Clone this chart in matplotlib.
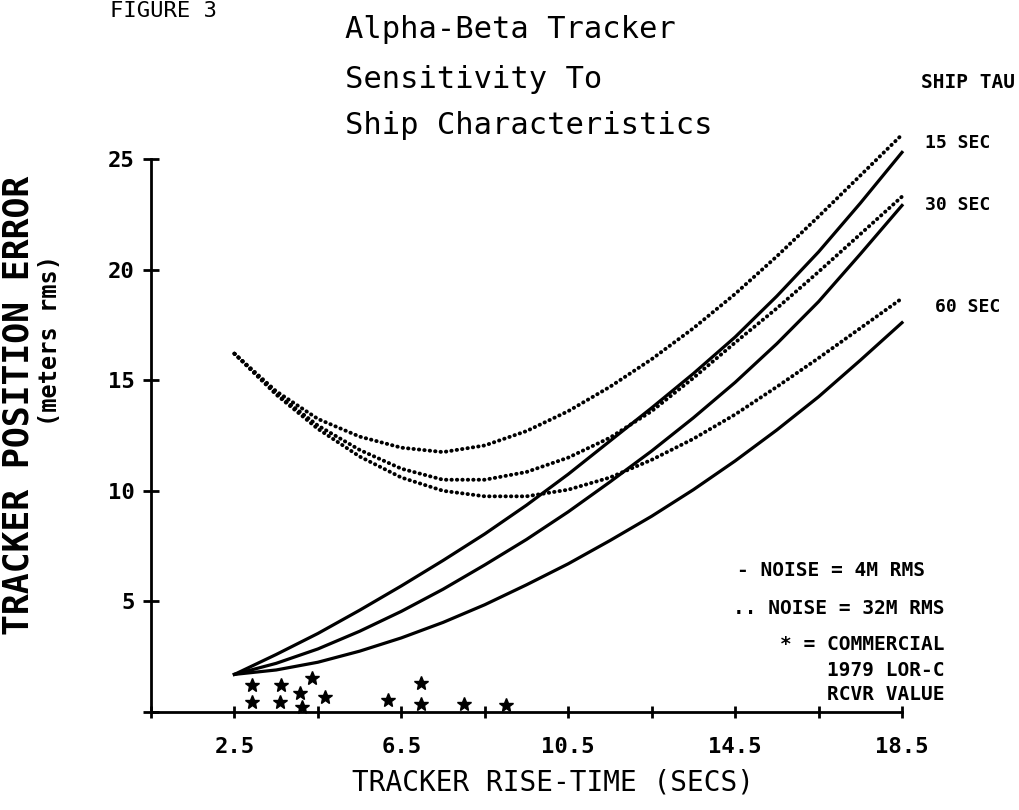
import matplotlib
matplotlib.use("Agg")
import matplotlib.pyplot as plt
import numpy as np

rise_time = [2.5, 3.5, 4.5, 5.5, 6.5, 7.5, 8.5, 9.5, 10.5,
             11.5, 12.5, 13.5, 14.5, 15.5, 16.5, 17.5, 18.5]

# noise = 4M rms (solid), ship tau 15 / 30 / 60 sec
solid_15 = [1.7, 2.6, 3.55, 4.6, 5.7, 6.85, 8.05, 9.35, 10.75,
            12.25, 13.75, 15.3, 16.95, 18.8, 20.8, 23.0, 25.3]
solid_30 = [1.7, 2.2, 2.85, 3.65, 4.55, 5.55, 6.65, 7.8, 9.05,
            10.4, 11.8, 13.3, 14.9, 16.65, 18.55, 20.7, 22.9]
solid_60 = [1.7, 1.9, 2.25, 2.75, 3.35, 4.05, 4.85, 5.75, 6.7,
            7.75, 8.85, 10.05, 11.35, 12.75, 14.25, 15.9, 17.6]

# noise = 32M rms (dotted)
dotted_15 = [16.2, 14.5, 13.25, 12.45, 11.95, 11.75, 12.05, 12.7, 13.6,
             14.7, 15.95, 17.35, 18.9, 20.6, 22.4, 24.25, 26.1]
dotted_30 = [16.2, 14.4, 12.95, 11.85, 11.0, 10.5, 10.5, 10.85, 11.5,
             12.4, 13.6, 15.1, 16.7, 18.25, 19.9, 21.6, 23.3]
dotted_60 = [16.2, 14.35, 12.8, 11.55, 10.6, 10.0, 9.75, 9.75, 10.05,
             10.6, 11.4, 12.35, 13.45, 14.7, 16.0, 17.35, 18.7]

# commercial 1979 loran-c receiver values
rcvr_x = [2.93, 2.93, 3.62, 3.58, 4.35, 4.06, 4.13, 4.66, 6.17, 6.98, 6.98, 8.0, 9.0]
rcvr_y = [1.22, 0.45, 1.22, 0.45, 1.54, 0.86, 0.23, 0.68, 0.54, 1.31, 0.36, 0.36, 0.32]

x_ticks = [0.5, 2.5, 4.5, 6.5, 8.5, 10.5, 12.5, 14.5, 16.5, 18.5]
x_labels = ['', '2.5', '', '6.5', '', '10.5', '', '14.5', '', '18.5']
y_ticks = [0, 5, 10, 15, 20, 25]
y_labels = ['', '5', '10', '15', '20', '25']

W, H = 1020, 810
mono = 'DejaVu Sans Mono'

fig = plt.figure(figsize=(W / 100, H / 100), dpi=100)
ax = fig.add_axes([151 / W, 1 - 712 / H, (902 - 151) / W, (712 - 159) / H])

for ys in (solid_15, solid_30, solid_60):
    ax.plot(rise_time, ys, color='black', lw=2.3, clip_on=False,
            solid_joinstyle='round')
for ys in (dotted_15, dotted_30, dotted_60):
    ax.plot(rise_time, ys, color='black', lw=2.8, linestyle=(0, (0.1, 1.3)),
            dash_capstyle='round', clip_on=False)
ax.plot(rcvr_x, rcvr_y, '*', color='black', markersize=10, clip_on=False)

ax.set_xlim(0.5, 18.5)
ax.set_ylim(0, 25)
ax.set_xticks(x_ticks)
ax.set_xticklabels(x_labels)
ax.set_yticks(y_ticks)
ax.set_yticklabels(y_labels)
for s in ('top', 'right'):
    ax.spines[s].set_visible(False)
for s in ('left', 'bottom'):
    ax.spines[s].set_linewidth(2)
ax.tick_params(axis='y', direction='inout', length=12, width=2, pad=6)
ax.tick_params(axis='x', direction='inout', length=8, width=2, pad=14)
for lab in ax.get_xticklabels() + ax.get_yticklabels():
    lab.set_fontfamily(mono)
    lab.set_fontweight('bold')
    lab.set_fontsize(16)

def ftext(x, y, s, **kw):
    fig.text(x / W, 1 - y / H, s, **kw)

ftext(110, 17, 'FIGURE 3', family=mono, fontsize=16, va='baseline')
ftext(345, 30, 'Alpha-Beta Tracker', family=mono, fontsize=22, va='center')
ftext(345, 80, 'Sensitivity To', family=mono, fontsize=22, va='center')
ftext(345, 126, 'Ship Characteristics', family=mono, fontsize=22, va='center')

ftext(1015, 82, 'SHIP TAU', family=mono, fontsize=14, weight='bold', ha='right', va='center')
ftext(925, 143, '15 SEC', family=mono, fontsize=13, weight='bold', va='center')
ftext(925, 205, '30 SEC', family=mono, fontsize=13, weight='bold', va='center')
ftext(935, 307, '60 SEC', family=mono, fontsize=13, weight='bold', va='center')

leg = dict(family=mono, fontsize=14, weight='bold', ha='right', va='center')
ftext(925, 570, '- NOISE = 4M RMS', **leg)
ftext(945, 608, '.. NOISE = 32M RMS', **leg)
ftext(945, 645, '* = COMMERCIAL', **leg)
ftext(945, 670, '1979 LOR-C', **leg)
ftext(945, 695, 'RCVR VALUE', **leg)

ftext(553, 782, 'TRACKER RISE-TIME (SECS)', family=mono, fontsize=20, ha='center', va='center')
ftext(19, 405, 'TRACKER POSITION ERROR', family=mono, fontsize=25, weight='bold',
      rotation=90, ha='center', va='center')
ftext(50, 340, '(meters rms)', family=mono, fontsize=17, weight='bold',
      rotation=90, ha='center', va='center')

fig.savefig('out.png', dpi=100)
